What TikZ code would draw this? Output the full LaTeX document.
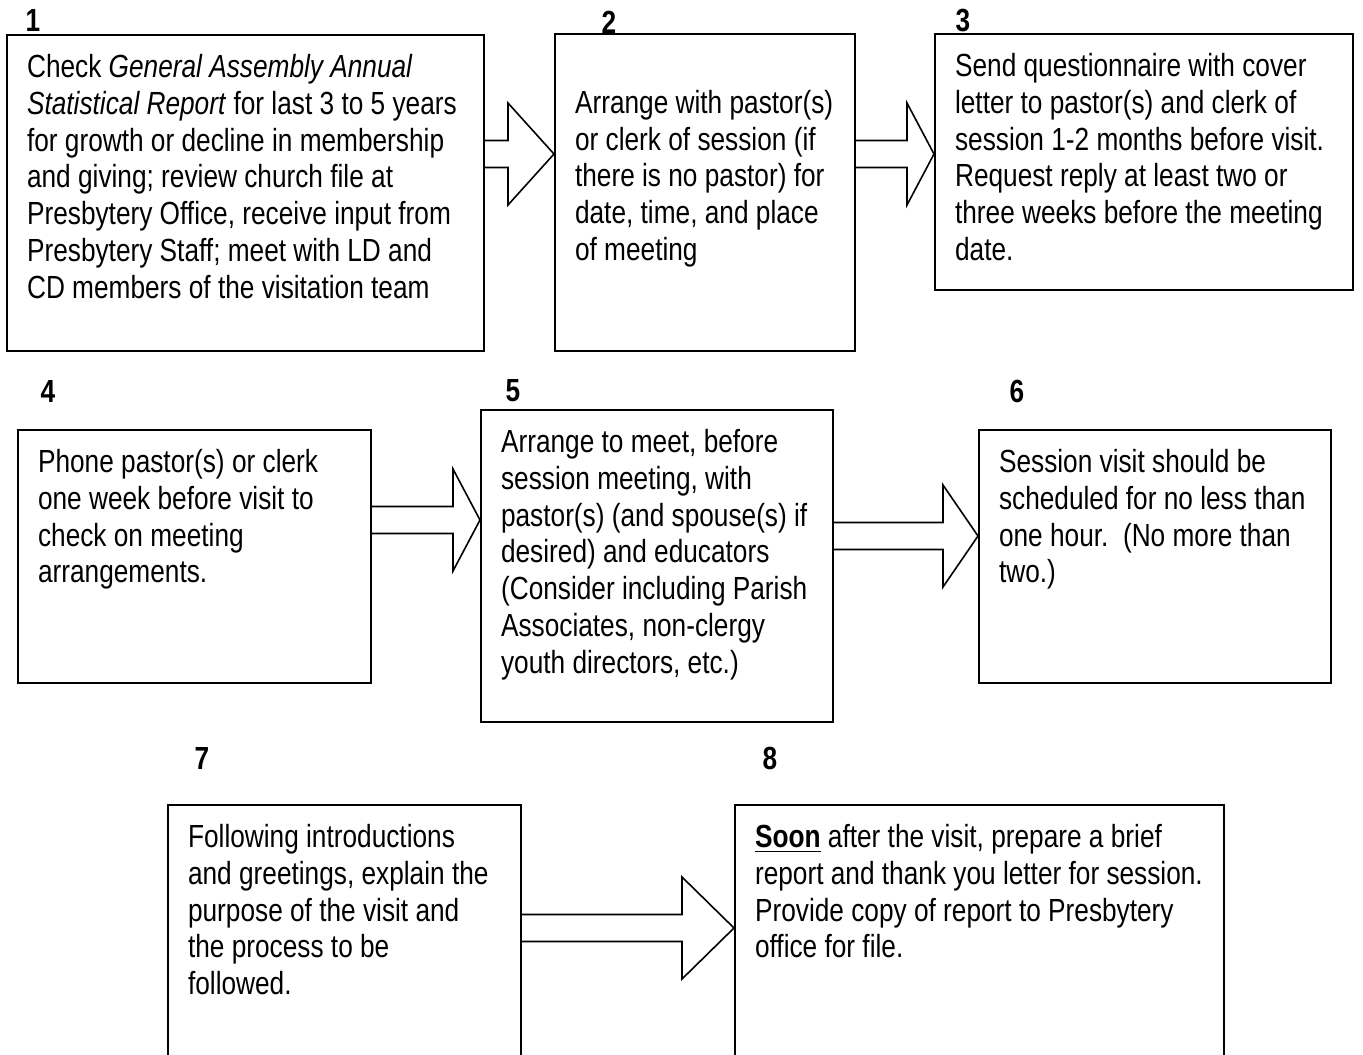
\documentclass[tikz,border=0pt]{standalone}
\usepackage{fontspec}
\setmainfont[FakeStretch=0.82]{Liberation Sans}
\usepackage{xcolor}
\definecolor{lineDark}{HTML}{000000}
\usepackage{tikz}
\usetikzlibrary{positioning,calc,fit}
\tikzset{
  stepBox/.style={
    rectangle,
    draw=lineDark,
    line width=0.75pt,
    inner sep=0pt
 },
  stepText/.style={
    anchor=north west,
    inner sep=0pt,
    align=left,
    font=\fontsize{12}{13.8}\selectfont
 },
  stepNum/.style={
    inner sep=0pt,
    font=\fontsize{12}{14}\selectfont\bfseries
 },
  arrowLine/.style={
    draw=lineDark,
    line width=0.6pt,
    line join=miter
 }
}
% block arrow from the right side of #1 to the left side of #2, centred at y=#3, head starting at x=#4
\newcommand{\stepArrow}[4]{%
  \draw[arrowLine] (#1.east |- 0,#3-13.5) -- (#4,#3-13.5) -- (#4,#3-51)
    -- (#2.west |- 0,#3) -- (#4,#3+51) -- (#4,#3+13.5) -- (#1.east |- 0,#3+13.5);
}

\begin{document}
\begin{tikzpicture}[x=0.375pt,y=-0.375pt]
            \useasboundingbox (0,0) rectangle (1363,1055);

            % first row
            \node[stepNum] (n1) at (33,20) {1};
            \node[stepBox, fit={(7,35) (484,351)}] (b1) {};
            \node[stepText] (t1) at ([xshift=7.7pt,yshift=-6.45pt]b1.north west)
              {\strut Check \textit{General Assembly Annual}\\
               \textit{Statistical Report} for last 3 to 5 years\\
               for growth or decline in membership\\
               and giving; review church file at\\
               Presbytery Office, receive input from\\
               Presbytery Staff; meet with LD and\\
               CD members of the visitation team};

            \node[stepNum] (n2) at (609,22) {2};
            \node[stepBox, fit={(555,34) (855,351)}] (b2) {};
            \node[stepText] (t2) at ([xshift=7.7pt,yshift=-20.25pt]b2.north west)
              {\strut Arrange with pastor(s)\\
               or clerk of session (if\\
               there is no pastor) for\\
               date, time, and place\\
               of meeting};

            \node[stepNum] (n3) at (963,21) {3};
            \node[stepBox, fit={(935,34) (1353,290)}] (b3) {};
            \node[stepText] (t3) at ([xshift=7.7pt,yshift=-6.45pt]b3.north west)
              {\strut Send questionnaire with cover\\
               letter to pastor(s) and clerk of\\
               session 1-2 months before visit.\\
               Request reply at least two or\\
               three weeks before the meeting\\
               date.};

            \stepArrow{b1}{b2}{154}{508}
            \stepArrow{b2}{b3}{154}{907}

            % second row
            \node[stepNum] (n4) at (48,391) {4};
            \node[stepBox, fit={(18,430) (371,683)}] (b4) {};
            \node[stepText] (t4) at ([xshift=7.7pt,yshift=-6.45pt]b4.north west)
              {\strut Phone pastor(s) or clerk\\
               one week before visit to\\
               check on meeting\\
               arrangements.};

            \node[stepNum] (n5) at (513,391) {5};
            \node[stepBox, fit={(481,410) (833,722)}] (b5) {};
            \node[stepText] (t5) at ([xshift=7.7pt,yshift=-6.45pt]b5.north west)
              {\strut Arrange to meet, before\\
               session meeting, with\\
               pastor(s) (and spouse(s) if\\
               desired) and educators\\
               (Consider including Parish\\
               Associates, non-clergy\\
               youth directors, etc.)};

            \node[stepNum] (n6) at (1017,391) {6};
            \node[stepBox, fit={(979,430) (1331,683)}] (b6) {};
            \node[stepText] (t6) at ([xshift=7.7pt,yshift=-6.45pt]b6.north west)
              {\strut Session visit should be\\
               scheduled for no less than\\
               one hour.\ \ (No more than\\
               two.)};

            \stepArrow{b4}{b5}{520}{453}
            \stepArrow{b5}{b6}{536}{943}

            % third row
            \node[stepNum] (n7) at (202,758) {7};
            \node[stepBox, fit={(168,805) (521,1070)}] (b7) {};
            \node[stepText] (t7) at ([xshift=7.7pt,yshift=-6.45pt]b7.north west)
              {\strut Following introductions\\
               and greetings, explain the\\
               purpose of the visit and\\
               the process to be\\
               followed.};

            \node[stepNum] (n8) at (770,758) {8};
            \node[stepBox, fit={(735,805) (1224,1070)}] (b8) {};
            \node[stepText] (t8) at ([xshift=7.7pt,yshift=-6.45pt]b8.north west)
              {\strut\underline{\textbf{Soon}} after the visit, prepare a brief\\
               report and thank you letter for session.\\
               Provide copy of report to Presbytery\\
               office for file.};

            \stepArrow{b7}{b8}{928}{682}

        \end{tikzpicture}
\end{document}
